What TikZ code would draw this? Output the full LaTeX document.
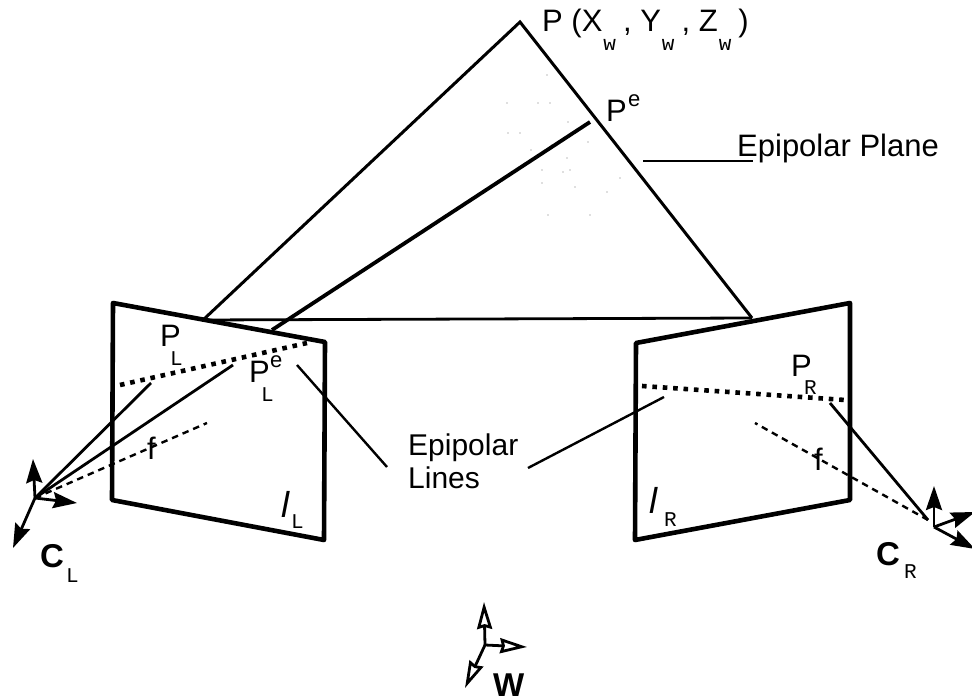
\documentclass[tikz,border=0pt]{standalone}
\usepackage{fontspec}
\setmainfont{Liberation Sans}
\newfontfamily\subfont{Liberation Mono}
\usetikzlibrary{arrows.meta}
\newcommand{\lowsub}[1]{\hspace{1pt}\raisebox{-19pt}{\subfont\fontsize{21}{21}\selectfont #1}\hspace{7pt}}

\begin{document}
\begin{tikzpicture}[x=1pt,y=-1pt,
 lbl/.style={anchor=base west,inner sep=0pt,font=\fontsize{31}{31}\selectfont},
 lns/.style={anchor=base west,inner sep=0pt,font=\fontsize{30}{30}\selectfont},
 sm/.style={anchor=base west,inner sep=0pt,font=\subfont\fontsize{21}{21}\selectfont},
 sup/.style={anchor=base west,inner sep=0pt,font=\fontsize{22}{22}\selectfont},
 cam/.style={anchor=base west,inner sep=0pt,font=\bfseries\fontsize{33}{33}\selectfont},
 img/.style={anchor=base west,inner sep=0pt,font=\itshape\fontsize{36}{36}\selectfont},
 plane/.style={line width=4.6pt,line join=round},
 ray/.style={line width=2.8pt},
 lead/.style={line width=2.4pt},
 epi/.style={line width=4.6pt,dash pattern=on 4.6pt off 5.8pt},
 axis/.style={line width=2.4pt,dash pattern=on 6.5pt off 5pt},
 ax/.style={line width=2.8pt,-{Stealth[length=24pt,width=16pt,inset=3pt]}},
 wax/.style={line width=2.8pt,-{Stealth[open,length=27pt,width=15pt,inset=2pt,line width=2.8pt]}}]
\useasboundingbox (0,0) rectangle (972,700);
% stipple
\foreach \dx/\dy in {547/75,507/103,538/103,550/103,508/133,520/133,552/145,567/158,570/170,563/172,542/170,542/183,620/178,588/142,607/192,575/187,568/122,531/150,590/215,548/215}
 \fill[black!55] (\dx,\dy) circle (0.7pt);
% image planes
\coordinate (ltl) at (113,303);
\coordinate (ltr) at (325,342);
\coordinate (lbr) at (324,540);
\coordinate (lbl) at (112,500);
\coordinate (rtl) at (636,343);
\coordinate (rtr) at (850,303);
\coordinate (rbr) at (850,500);
\coordinate (rbl) at (635,540);
% epipolar triangle
\coordinate (p) at (520,22);
\coordinate (pe) at (590,122);
\coordinate (ol) at (203,320);
\coordinate (or) at (752,318);
\coordinate (oe) at (272,330);
\draw[line width=3pt,line join=miter] (ol)--(p)--(or);
\draw[line width=2.8pt] (ol)--(or);
\draw[line width=3.8pt] (oe)--(pe);
\draw[plane] (ltl)--(ltr)--(lbr)--(lbl)--cycle;
\draw[plane] (rtl)--(rtr)--(rbr)--(rbl)--cycle;
% left camera
\coordinate (cl) at (35,498);
\coordinate (clu) at (33,459);
\coordinate (clr) at (77,503);
\coordinate (cld) at (13,548);
\coordinate (pl) at (151,383);
\coordinate (ple) at (233,365);
\coordinate (fl) at (207,423);
\coordinate (el1) at (120,385);
\coordinate (el2) at (307,343);
\draw[ray] (cl)--(pl);
\draw[ray] (cl)--(ple);
\draw[axis] (cl)--(fl);
\draw[epi] (el1)--(el2);
\draw[ax] (cl)--(clu);
\draw[ax] (cl)--(clr);
\draw[ax] (cl)--(cld);
% right camera
\coordinate (cr) at (934,527);
\coordinate (cru) at (934,486);
\coordinate (crr) at (975,512);
\coordinate (crd) at (975,549);
\coordinate (pr) at (830,403);
\coordinate (fr) at (755,423);
\coordinate (crs) at (928,520);
\coordinate (er1) at (642,386);
\coordinate (er2) at (845,400);
\draw[ray] (crs)--(pr);
\draw[axis] (crs)--(fr);
\draw[epi] (er1)--(er2);
\draw[ax] (cr)--(cru);
\draw[ax] (cr)--(crr);
\draw[ax] (cr)--(crd);
% world axes
\coordinate (w) at (485,645);
\coordinate (wu) at (484,602);
\coordinate (wr) at (527,647);
\coordinate (wd) at (465,688);
\draw[wax] (w)--(wu);
\draw[wax] (w)--(wr);
\draw[wax] (w)--(wd);
% leaders
\coordinate (a1) at (643,161);
\coordinate (a2) at (753,161);
\coordinate (b1) at (297,365);
\coordinate (b2) at (387,467);
\coordinate (c1) at (528,468);
\coordinate (c2) at (664,397);
\draw[lead] (a1)--(a2);
\draw[lead] (b1)--(b2);
\draw[lead] (c1)--(c2);
% labels
\node[lbl] (ptxt) at (542,32) {P (X\lowsub{w}, Y\lowsub{w}, Z\lowsub{w})};
\node[lbl] (petxt) at (606,122) {P};
\node[sup] (pesup) at (628,107) {e};
\node[lbl] (plane) at (737,157) {Epipolar Plane};
\node[lns] (lines1) at (408,456) {Epipolar};
\node[lns] (lines2) at (408,488) {Lines};
\node[lbl] (pltxt) at (160,347) {P};
\node[sm] (plsub) at (170,366) {L};
\node[lbl] (pletxt) at (249,383) {P};
\node[sup] (plesup) at (270,368) {e};
\node[sm] (plesub) at (261,402) {L};
\node[lbl] (fltxt) at (147,460) {f};
\node[img] (iltxt) at (281,517) {l};
\node[sm] (ilsub) at (291,528) {L};
\node[cam] (cltxt) at (40,567) {C};
\node[sm] (clsub) at (66,582) {L};
\node[lbl] (prtxt) at (791,377) {P};
\node[sm] (prsub) at (804,395) {R};
\node[lbl] (frtxt) at (814,470) {f};
\node[img] (irtxt) at (649,513) {l};
\node[sm] (irsub) at (664,526) {R};
\node[cam] (crtxt) at (876,565) {C};
\node[sm] (crsub) at (904,578) {R};
\node[cam] (wtxt) at (493,696) {W};
\end{tikzpicture}
\end{document}
